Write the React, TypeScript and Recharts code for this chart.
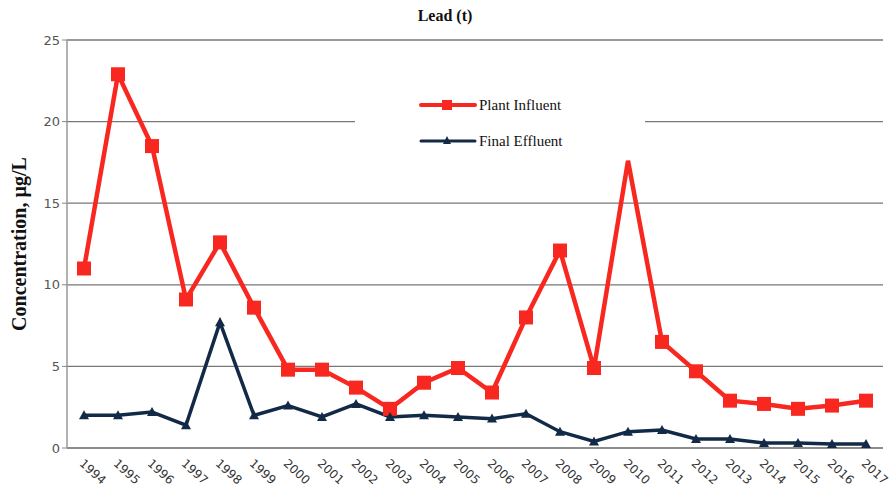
import { LineChart, Line, XAxis, YAxis, CartesianGrid, Legend } from 'recharts'

const years = ['1994', '1995', '1996', '1997', '1998', '1999', '2000', '2001', '2002', '2003', '2004', '2005',
  '2006', '2007', '2008', '2009', '2010', '2011', '2012', '2013', '2014', '2015', '2016', '2017']
const plantInfluent = [11.0, 22.9, 18.5, 9.1, 12.6, 8.6, 4.8, 4.8, 3.7, 2.4, 4.0, 4.9,
  3.4, 8.0, 12.1, 4.9, 17.6, 6.5, 4.7, 2.9, 2.7, 2.4, 2.6, 2.9]
const finalEffluent = [2.0, 2.0, 2.2, 1.4, 7.7, 2.0, 2.6, 1.9, 2.7, 1.9, 2.0, 1.9,
  1.8, 2.1, 1.0, 0.4, 1.0, 1.1, 0.55, 0.55, 0.3, 0.3, 0.25, 0.25]
const yTicks = [0, 5, 10, 15, 20, 25]

const RED = '#f8271f'
const NAVY = '#132a47'

const data = years.map((year, i) => ({ year, plant: plantInfluent[i], final: finalEffluent[i] }))

function SquareDot(props: any) {
  const { cx, cy, payload } = props
  if (cx == null || cy == null || payload.year === '2010') return null
  return <rect x={cx - 7} y={cy - 7} width={14} height={14} fill={RED} />
}

function TriangleDot(props: any) {
  const { cx, cy } = props
  if (cx == null || cy == null) return null
  return <path d={`M${cx},${cy - 5} L${cx + 5},${cy + 4} L${cx - 5},${cy + 4} Z`} fill={NAVY} />
}

function YearTick(props: any) {
  const { x, y, payload } = props
  return (
    <text x={x - 3} y={y + 6} transform={`rotate(42, ${x - 3}, ${y + 6})`} textAnchor="start"
      dominantBaseline="middle" fontSize={12} fill="#333" fontFamily="DejaVu Sans, sans-serif">
      {payload.value}
    </text>
  )
}

function LegendBox() {
  const row = (color: string, label: string, marker: 'sq' | 'tri') => (
    <div style={{ display: 'flex', alignItems: 'center', height: 36 }}>
      <svg width={58} height={14}>
        <line x1={2} y1={7} x2={56} y2={7} stroke={color} strokeWidth={marker === 'sq' ? 4 : 3} strokeLinecap="round" />
        {marker === 'sq'
          ? <rect x={23} y={2} width={10} height={10} fill={color} />
          : <path d="M28,2 L32,10 L24,10 Z" fill={color} />}
      </svg>
      <span style={{ fontFamily: 'Liberation Serif, serif', fontSize: 15, color: '#111', marginLeft: 2 }}>{label}</span>
    </div>
  )
  return (
    <div style={{ background: '#fff', width: 290, height: 72, paddingLeft: 64, boxSizing: 'border-box' }}>
      {row(RED, 'Plant Influent', 'sq')}
      {row(NAVY, 'Final Effluent', 'tri')}
    </div>
  )
}

export default function App() {
  return (
    <div style={{ position: 'absolute', left: 0, top: 0, width: 890, height: 495, background: '#fff' }}>
      <div style={{ position: 'absolute', top: 7, left: 0, width: 890, textAlign: 'center', fontFamily: 'Liberation Serif, serif',
        fontWeight: 'bold', fontSize: 16, color: '#111', zIndex: 2 }}>
        Lead (t)
      </div>
      <LineChart width={890} height={495} data={data} margin={{ top: 40, right: 7, bottom: 0, left: 0 }}>
        <CartesianGrid horizontal vertical={false} stroke="#777" strokeWidth={1.3} yAxisId="l" />
        <XAxis dataKey="year" height={47} tick={<YearTick />} tickLine={false} axisLine={{ stroke: '#888', strokeWidth: 1.5 }}
          interval={0} padding={{ left: 17, right: 17 }} />
        <YAxis yAxisId="l" width={67} domain={[0, 25]} ticks={yTicks} interval={0}
          tick={{ fontSize: 13, fill: '#555', fontFamily: 'DejaVu Sans, sans-serif' }}
          tickLine={{ stroke: '#888' }} tickSize={5} axisLine={{ stroke: '#999', strokeWidth: 1.5 }}
          label={{ value: 'Concentration, µg/L', angle: -90, position: 'insideLeft', dx: 14, dy: 0,
            style: { textAnchor: 'middle', fontFamily: 'Liberation Serif, serif', fontWeight: 'bold', fontSize: 20, fill: '#111' } }} />
        <YAxis yAxisId="r" orientation="right" width={0} domain={[0, 25]} tick={false} tickLine={false}
          axisLine={{ stroke: '#999', strokeWidth: 1.5 }} />
        <Legend verticalAlign="middle" layout="horizontal" content={<LegendBox />}
          wrapperStyle={{ position: 'absolute', left: 355, top: 87, width: 290, height: 72 }} />
        <Line yAxisId="l" type="linear" dataKey="plant" name="Plant Influent" stroke={RED} strokeWidth={4.5}
          dot={<SquareDot />} activeDot={false} isAnimationActive={false} />
        <Line yAxisId="l" type="linear" dataKey="final" name="Final Effluent" stroke={NAVY} strokeWidth={3.5}
          dot={<TriangleDot />} activeDot={false} isAnimationActive={false} />
      </LineChart>
    </div>
  )
}
